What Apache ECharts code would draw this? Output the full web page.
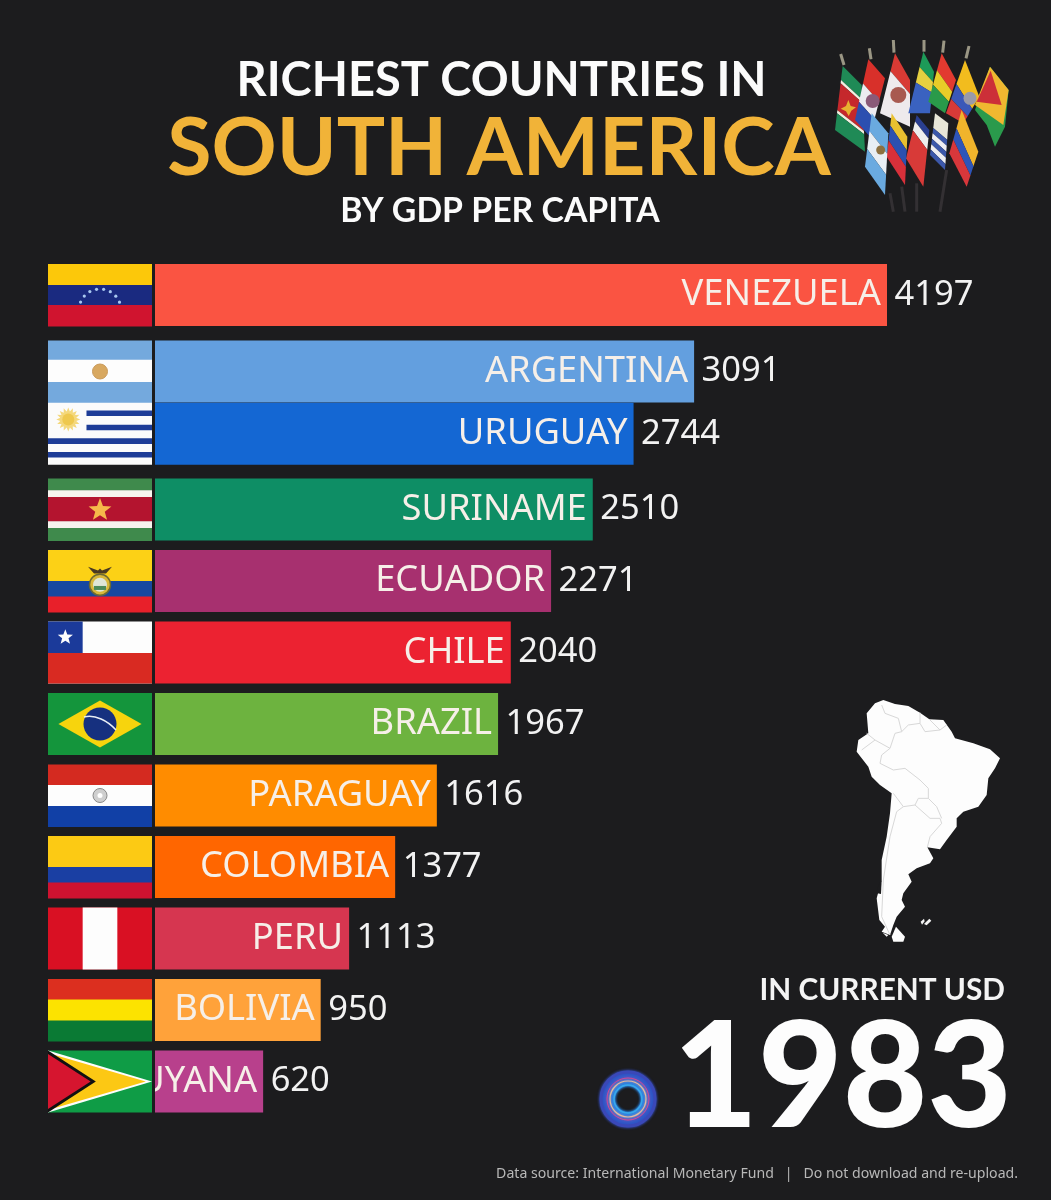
<!DOCTYPE html>
<html><head><meta charset="utf-8">
<script src="https://cdn.jsdelivr.net/npm/echarts@6/dist/echarts.min.js"></script>
<style>html,body{margin:0;padding:0;background:#1c1c1e}#c{width:1051px;height:1200px}</style>
</head><body><div id="c"></div>
<script>
const countries=['VENEZUELA','ARGENTINA','URUGUAY','SURINAME','ECUADOR','CHILE','BRAZIL','PARAGUAY','COLOMBIA','PERU','BOLIVIA','GUYANA'];
const gdpPerCapita=[4197,3091,2744,2510,2271,2040,1967,1616,1377,1113,950,620];
// rank as shown in this animation frame: Argentina and Uruguay are mid-swap
const displayedRank=[0,1.07,1.94,3,4,5,6,7,8,9,10,11];
const barColors=['#fa5442','#639fdf','#1467d3','#0e8e65','#a7306f','#ec2231','#6db33f','#ff8c00','#ff6600','#d63650','#ffa23a','#b8408c'];
const BG='#1c1c1e';

const chart=echarts.init(document.getElementById('c'),null,{renderer:'canvas'});

function R(x,y,w,h,fill){return {type:'rect',shape:{x,y,width:w,height:h},style:{fill}};}
function C(cx,cy,r,fill,stroke,lw){return {type:'circle',shape:{cx,cy,r},style:{fill:fill||'none',stroke:stroke||null,lineWidth:lw||0}};}
function P(points,fill,stroke,lw){return {type:'polygon',shape:{points},style:{fill,stroke:stroke||null,lineWidth:lw||0}};}
function H(w,h,bands){let y=0,out=[];bands.forEach(b=>{out.push(R(0,y,w,h*b[0]+.5,b[1]));y+=h*b[0];});return out;}
function star(cx,cy,r,fill){const p=[];for(let i=0;i<10;i++){const a=-Math.PI/2+i*Math.PI/5,q=i%2?r*.42:r;p.push([cx+q*Math.cos(a),cy+q*Math.sin(a)]);}return P(p,fill);}
function sun(cx,cy,r){const p=[];for(let i=0;i<32;i++){const a=i*Math.PI/16,q=i%2?r*.68:r;p.push([cx+q*Math.cos(a),cy+q*Math.sin(a)]);}return [P(p,'#f4d87c'),C(cx,cy,r*.5,'#eec84e')];}
const flagDraw={
 VENEZUELA(w,h){const o=H(w,h,[[.34,'#fcc80a'],[.32,'#1a2a80'],[.34,'#d0142f']]);
   for(let i=0;i<8;i++){const a=3.53+i*.339;o.push(C(w/2+21*Math.cos(a),46+21*Math.sin(a),1.6,'#a9c8f0'));}return o;},
 ARGENTINA(w,h){return H(w,h,[[.31,'#74a9dd'],[.36,'#fdfdfd'],[.33,'#74a9dd']]).concat([C(w/2,h/2,7.5,'#d8a860','#c99a5a',1)]);},
 URUGUAY(w,h){const o=[R(0,0,w,h,'#fbfbfb')];const x=w*.37;[.125,.355,.575,.795].forEach((f,i)=>{o.push(R(i<2?x:0,h*f,i<2?w-x:w,h*.09,'#1d3c97'));});return o.concat(sun(w*.195,h*.27,12));},
 SURINAME(w,h){return H(w,h,[[.19,'#3f8a4c'],[.11,'#f7f3ee'],[.39,'#b4142f'],[.11,'#f7f3ee'],[.2,'#3f8a4c']]).concat([star(w/2,h*.51,12,'#f6b84a')]);},
 ECUADOR(w,h){return H(w,h,[[.5,'#fcd116'],[.25,'#1748a0'],[.25,'#e8202a']]).concat([
   C(w/2,h*.56,10.5,'#d9b83a','#6d6a33',1.5),C(w/2,h*.56,7,'#dfe6d8'),R(w/2-6,h*.58,12,4,'#4c8a5a'),
   P([[w/2-12,h*.27],[w/2-2,h*.33],[w/2,h*.3],[w/2+2,h*.33],[w/2+12,h*.27],[w/2+6,h*.38],[w/2-6,h*.38]],'#4a3a22')]);},
 CHILE(w,h){return [R(0,0,w,h,'#fdfdfd'),R(0,h*.51,w,h*.49,'#d92a22'),R(0,0,w/3,h*.51,'#1b3a9a'),star(w/6,h*.255,8,'#fdfdfd')];},
 BRAZIL(w,h){return [R(0,0,w,h,'#14953c'),P([[w*.1,h/2],[w/2,h*.12],[w*.9,h/2],[w/2,h*.88]],'#f7d40d'),C(w/2,h/2,16.5,'#16307f'),
   {type:'bezierCurve',shape:{x1:w/2-16,y1:h/2-7,x2:w/2+16,y2:h/2+6,cpx1:w/2-5,cpy1:h/2-10,cpx2:w/2+8,cpy2:h/2-3},style:{stroke:'#e8eef5',lineWidth:1.5,fill:'none'}}];},
 PARAGUAY(w,h){return H(w,h,[[.33,'#d42a20'],[.34,'#fdfdfd'],[.33,'#1140a6']]).concat([C(w/2,h/2,7,'#cfcfcf','#8a8a8a',1),C(w/2,h/2,2.5,'#fff')]);},
 COLOMBIA(w,h){return H(w,h,[[.5,'#fcca14'],[.25,'#1a3fa3'],[.25,'#cf1230']]);},
 PERU(w,h){return [R(0,0,w,h,'#d91023'),R(w/3,0,w/3,h,'#fdfdfd')];},
 BOLIVIA(w,h){return H(w,h,[[.33,'#dc2f1f'],[.34,'#fce300'],[.33,'#0a7a34']]);},
 GUYANA(w,h){return [R(0,0,w,h,'#0f9c46'),P([[0,0],[w,h/2],[0,h]],'#fdfdfd'),P([[0,2.5],[w*.94,h/2],[0,h-2.5]],'#fcc814'),P([[0,0],[w*.46,h/2],[0,h]],'#111'),P([[0,3.5],[w*.41,h/2],[0,h-3.5]],'#d6152f')];}
};

function barRender(params,api){
 const i=params.dataIndex, v=api.value(0), rank=api.value(1);
 const s=api.coord([0,rank]), e=api.coord([v,rank]);
 const bh=62, y=s[1]-bh/2, bw=e[0]-s[0];
 return {type:'group',children:[
  {type:'rect',shape:{x:s[0],y,width:bw,height:bh},style:{fill:barColors[i]}},
  {type:'group',clipPath:{type:'rect',shape:{x:s[0],y,width:bw,height:bh}},children:[
    {type:'text',style:{text:countries[i],x:e[0]-6,y:s[1],align:'right',verticalAlign:'middle',fill:'#f6efe8',font:'400 36.3px "Noto Sans"'}}]},
  {type:'text',style:{text:String(v),x:e[0]+7.5,y:s[1],align:'left',verticalAlign:'middle',fill:'#f2f2f2',font:'400 34.5px "Noto Sans"'}}
 ]};
}
function flagRender(params,api){
 const i=params.dataIndex, rank=api.value(1), s=api.coord([0,rank]);
 return {type:'group',x:s[0]-107,y:s[1]-31,children:flagDraw[countries[i]](104,62)};
}

// ---- decorative: outline of the continent (pixels of this 1051x1200 page)
const mp=(pts)=>pts.map(p=>[840+p[0]/3,690+p[1]/3]);
const outline=mp([[130,30],[165,42],[205,48],[240,68],[268,88],[310,90],[335,125],[345,145],[400,160],[450,178],[480,205],[465,235],[445,265],[440,315],[415,350],[370,365],[350,385],[350,410],[320,450],[300,478],[262,472],[280,505],[270,520],[230,535],[205,553],[215,575],[190,610],[185,630],[195,650],[170,680],[160,705],[150,735],[125,725],[135,710],[118,690],[110,625],[125,570],[125,510],[140,440],[150,370],[155,310],[120,285],[95,260],[85,230],[50,185],[55,150],[85,130],[80,70],[105,40]]);
const borders=[
 [[125,45],[135,70],[175,85],[185,125],[165,130],[150,175],[125,195],[120,220],[160,240],[195,235],[240,270],[265,295],[265,325],[235,325],[225,345],[190,350],[160,310]],
 [[80,130],[105,150],[150,175]],[[105,150],[65,180]],
 [[185,125],[205,105],[240,100],[240,68]],[[240,100],[255,125],[300,120],[268,88]],[[300,120],[320,105]],
 [[225,345],[270,385],[300,385],[305,400],[270,440],[262,472]],[[265,325],[290,350],[305,385]],
 [[190,350],[170,365],[150,440],[130,570],[125,680],[150,735]]
];
const g=[];
g.push({type:'polygon',shape:{points:outline},style:{fill:'#fdfdfd'}});
borders.forEach(b=>g.push({type:'polyline',shape:{points:mp(b)},style:{stroke:'#d8d8d8',lineWidth:1,fill:'none'}}));
g.push({type:'polygon',shape:{points:mp([[113,590],[125,570],[123,612],[112,610]])},style:{fill:BG}});
g.push({type:'polygon',shape:{points:mp([[155,740],[168,710],[195,740],[190,755],[160,755]])},style:{fill:'#fdfdfd'}});
g.push({type:'polygon',shape:{points:mp([[128,728],[145,735],[140,740]])},style:{fill:'#fdfdfd'}});
g.push({type:'polygon',shape:{points:mp([[242,695],[252,686],[254,694],[246,704]])},style:{fill:'#f4f4f4'}});
g.push({type:'polygon',shape:{points:mp([[252,702],[268,686],[274,692],[260,706]])},style:{fill:'#f4f4f4'}});

// ---- decorative: cluster of table flags
const fp=(x,y)=>[820+x/3,30+y/3];
function lerp(a,b,t){return [a[0]+(b[0]-a[0])*t,a[1]+(b[1]-a[1])*t];}
function cflag(tl,tr,br,bl,bands){let t=0;bands.forEach(b=>{const t2=t+b[0];
  g.push({type:'polygon',shape:{points:[fp(...lerp(tl,bl,t)),fp(...lerp(tr,br,t)),fp(...lerp(tr,br,t2)),fp(...lerp(tl,bl,t2))]},style:{fill:b[1]}});t=t2;});}
[[[210,490],[220,545]],[[245,470],[255,545]],[[290,460],[290,545]],[[380,420],[360,545]]].forEach(l=>g.push({type:'line',shape:{x1:fp(...l[0])[0],y1:fp(...l[0])[1],x2:fp(...l[1])[0],y2:fp(...l[1])[1]},style:{stroke:'#333033',lineWidth:3}}));
[[[62,72],[72,105]],[[148,55],[153,88]],[[220,30],[222,68]],[[312,30],[312,65]],[[372,32],[368,68]],[[447,48],[438,85]]].forEach(l=>g.push({type:'line',shape:{x1:fp(...l[0])[0],y1:fp(...l[0])[1],x2:fp(...l[1])[0],y2:fp(...l[1])[1]},style:{stroke:'#9a9684',lineWidth:3}}));
cflag([68,108],[125,165],[135,365],[45,300],[[.22,'#1f8a56'],[.05,'#f2efe0'],[.42,'#c5282c'],[.05,'#f2efe0'],[.26,'#1f8a56']]);
g.push({type:'polygon',shape:{points:[fp(85,210),fp(92,228),fp(108,232),fp(94,242),fp(86,258),fp(78,244),fp(62,236),fp(78,228)]},style:{fill:'#e8b030'}});
cflag([145,88],[195,145],[150,320],[105,270],[[.4,'#d8302a'],[.3,'#ecebf0'],[.3,'#2c4fb0']]);
g.push({type:'circle',shape:{cx:fp(158,213)[0],cy:fp(158,213)[1],r:7},style:{fill:'#8a5a78'}});
cflag([225,70],[270,150],[270,290],[180,250],[[.3,'#d83a34'],[.7,'#eeeaec']]);
g.push({type:'circle',shape:{cx:fp(235,195)[0],cy:fp(235,195)[1],r:8},style:{fill:'#a85a50'}});
cflag([310,65],[342,125],[330,250],[265,250],[[.25,'#1d9a58'],[.25,'#e6d040'],[.5,'#3a62c0']]);
cflag([365,70],[408,150],[375,250],[325,215],[[.35,'#e23a30'],[.3,'#e8cc28'],[.35,'#2a9a4a']]);
cflag([435,90],[478,200],[430,280],[378,250],[[.45,'#f2bc1e'],[.28,'#3a58b8'],[.27,'#d83a38']]);
g.push({type:'circle',shape:{cx:fp(450,205)[0],cy:fp(450,205)[1],r:6.5},style:{fill:'#9a9aa8'}});
g.push({type:'polygon',shape:{points:[fp(510,110),fp(566,180),fp(555,290),fp(525,350),fp(500,285),fp(465,240)]},style:{fill:'#2a9a4c'}});
g.push({type:'polygon',shape:{points:[fp(510,110),fp(566,180),fp(550,285),fp(465,225)]},style:{fill:'#f0b830'}});
g.push({type:'polygon',shape:{points:[fp(512,122),fp(545,225),fp(470,215)]},style:{fill:'#cc2f38'}});
cflag([425,240],[475,365],[440,470],[388,370],[[.42,'#f0b42c'],[.26,'#2e55b8'],[.32,'#d8373b']]);
cflag([345,250],[385,280],[375,420],[330,375],[[.35,'#e8e6d8'],[.13,'#3c58aa'],[.13,'#eeeef2'],[.13,'#3c58aa'],[.13,'#eeeef2'],[.13,'#3c58aa']]);
cflag([290,255],[328,300],[310,470],[258,385],[[.15,'#2a3f90'],[.2,'#eee'],[.65,'#d83a38']]);
cflag([215,250],[262,320],[255,465],[200,380],[[.28,'#e8c030'],[.34,'#2c50b0'],[.38,'#d8303a']]);
cflag([155,250],[205,310],[195,495],[135,410],[[.33,'#6aaae0'],[.34,'#e8eef4'],[.33,'#6aaae0']]);
g.push({type:'circle',shape:{cx:fp(182,360)[0],cy:fp(182,360)[1],r:4.5},style:{fill:'#8c7040'}});

// ---- decorative: round logo
const lc=[628,1099];
[[21,'#2a5ccc',14],[27,'#3a48b8',3],[16,'#1f6fe0',6],[18,'#e8c0a0',1.2],[21,'#d04a9a',1],[14,'#3aa8e8',1.5]].forEach(r=>g.push({type:'circle',shape:{cx:lc[0],cy:lc[1],r:r[0]},style:{fill:'none',stroke:r[1],lineWidth:r[2],shadowBlur:3,shadowColor:r[1]}}));

// ---- text
const T=(text,x,y,font,fill,align)=>({type:'text',x,y,style:{text,font,fill,align:align||'center',verticalAlign:'middle'}});
g.push(T('RICHEST COUNTRIES IN',501.5,81,'700 47px Lato','#fbfbfb'));
g.push(T('SOUTH AMERICA',499,149,'700 80.7px Lato','#f1b338'));
g.push(T('BY GDP PER CAPITA',500,211,'700 33.8px Lato','#fbfbfb'));
g.push(T('IN CURRENT USD',1005,990,'700 29.8px Lato','#f4f4f4','right'));
g.push(T('1983',1012,1080,'900 146px Lato','#fdfdfd','right'));
g.push(T('Data source: International Monetary Fund   |   Do not download and re-upload.',1018,1174,'400 14.1px "Noto Sans"','#b8b8b8','right'));

const rows=gdpPerCapita.map((v,i)=>[v,displayedRank[i]]);
chart.setOption({
 backgroundColor:BG,animation:false,
 grid:{left:155,top:259.25,width:732,height:858},
 xAxis:{type:'value',min:0,max:4197,show:false},
 yAxis:{type:'value',min:-0.5,max:11.5,inverse:true,show:false},
 graphic:{elements:g.map(e=>Object.assign({silent:true},e))},
 series:[
  {type:'custom',clip:false,data:rows,renderItem:barRender,encode:{x:0,y:1},silent:true},
  {type:'custom',clip:false,data:rows,renderItem:flagRender,encode:{x:0,y:1},silent:true,z:3}
 ]
});
</script></body></html>
